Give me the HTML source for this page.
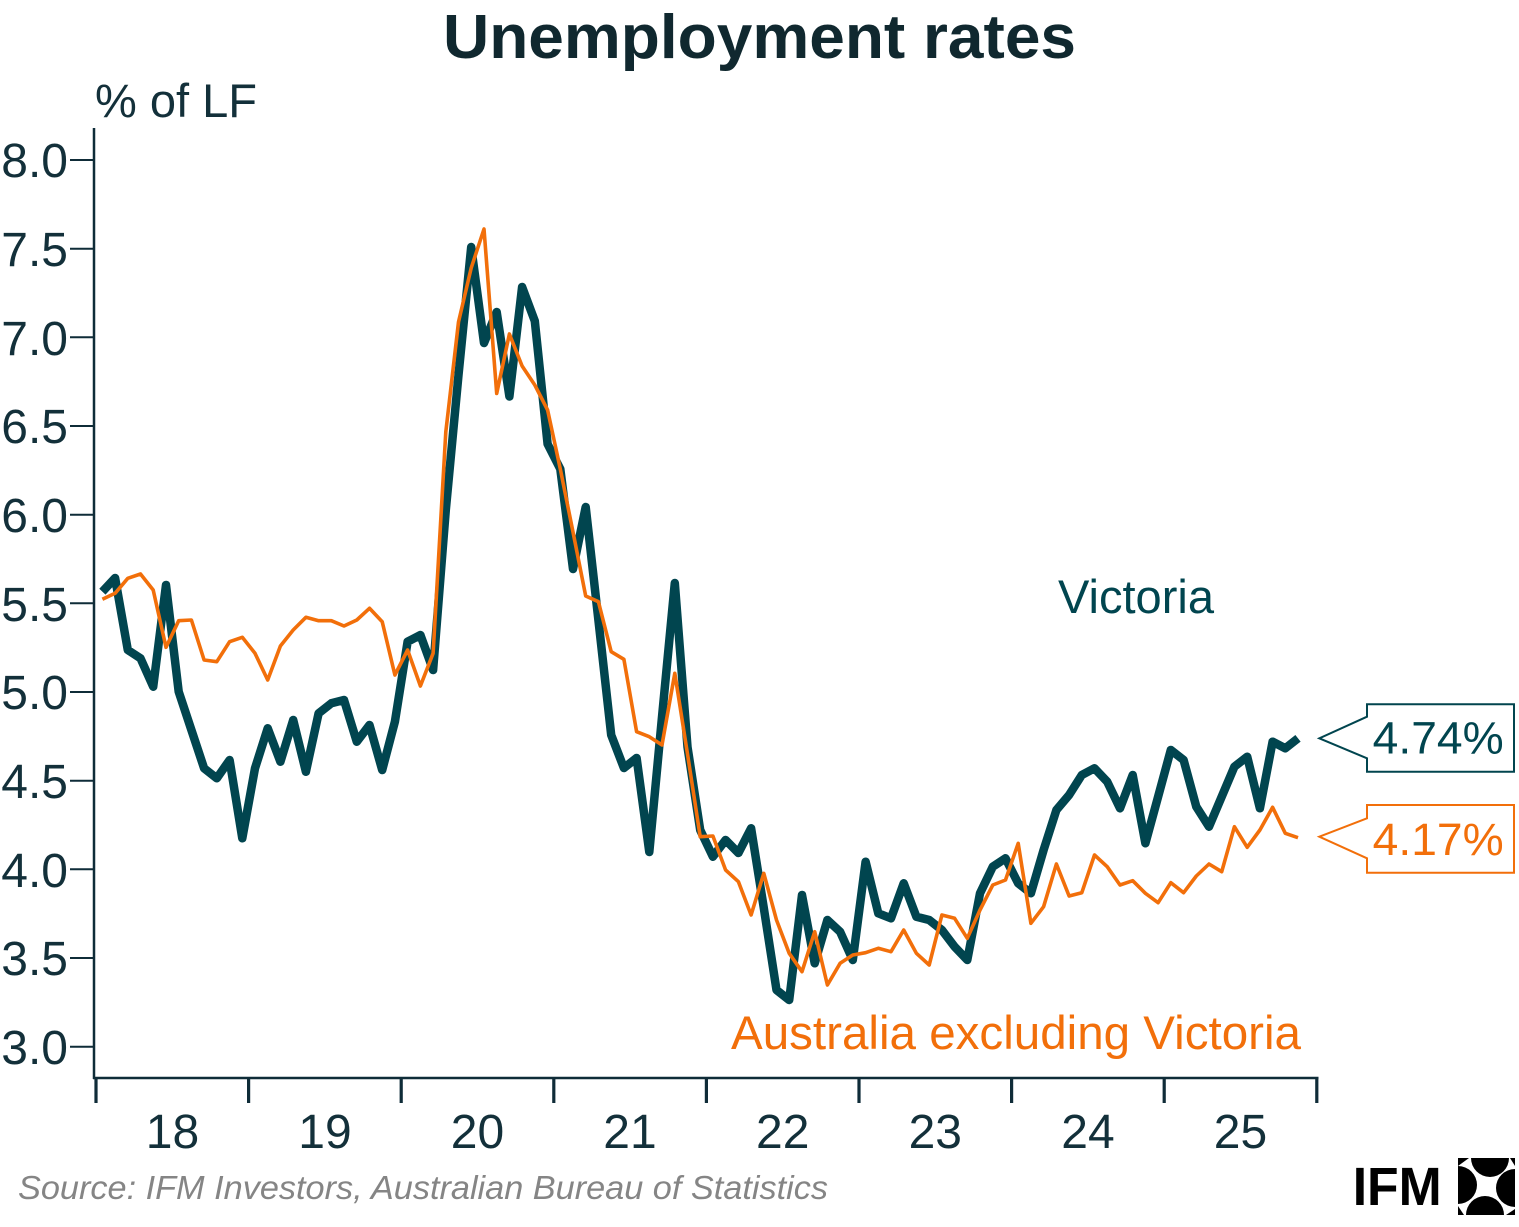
<!DOCTYPE html>
<html>
<head>
<meta charset="utf-8">
<style>
  html, body { margin: 0; padding: 0; background: #ffffff; }
  svg { display: block; }
  text { font-family: "Liberation Sans", "DejaVu Sans", sans-serif; }
</style>
</head>
<body>
<svg width="1519" height="1227" viewBox="0 0 1519 1227" xmlns="http://www.w3.org/2000/svg">
  <rect x="0" y="0" width="1519" height="1227" fill="#ffffff"/>

  <!-- Title -->
  <text x="443" y="58" font-size="62" font-weight="bold" fill="#10282f" textLength="633" lengthAdjust="spacingAndGlyphs">Unemployment rates</text>

  <!-- Y unit -->
  <text x="95" y="117" font-size="47" fill="#13303a" textLength="162" lengthAdjust="spacingAndGlyphs">% of LF</text>

  <!-- Axes -->
  <g stroke="#0f2c38" fill="none">
    <line x1="94" y1="128" x2="94" y2="1079" stroke-width="2.5"/>
    <line x1="93" y1="1078" x2="1318.5" y2="1078" stroke-width="2.5"/>
    <!-- y ticks -->
    <g stroke-width="2">
      <line x1="70" y1="160" x2="94" y2="160"/>
      <line x1="70" y1="248.7" x2="94" y2="248.7"/>
      <line x1="70" y1="337.3" x2="94" y2="337.3"/>
      <line x1="70" y1="426" x2="94" y2="426"/>
      <line x1="70" y1="514.7" x2="94" y2="514.7"/>
      <line x1="70" y1="603.3" x2="94" y2="603.3"/>
      <line x1="70" y1="692" x2="94" y2="692"/>
      <line x1="70" y1="780.7" x2="94" y2="780.7"/>
      <line x1="70" y1="869.3" x2="94" y2="869.3"/>
      <line x1="70" y1="958" x2="94" y2="958"/>
      <line x1="70" y1="1046.7" x2="94" y2="1046.7"/>
    </g>
    <!-- x ticks -->
    <g stroke-width="3.2">
      <line x1="96" y1="1078" x2="96" y2="1103"/>
      <line x1="248.6" y1="1078" x2="248.6" y2="1103"/>
      <line x1="401.2" y1="1078" x2="401.2" y2="1103"/>
      <line x1="553.8" y1="1078" x2="553.8" y2="1103"/>
      <line x1="706.4" y1="1078" x2="706.4" y2="1103"/>
      <line x1="859" y1="1078" x2="859" y2="1103"/>
      <line x1="1011.6" y1="1078" x2="1011.6" y2="1103"/>
      <line x1="1164.2" y1="1078" x2="1164.2" y2="1103"/>
      <line x1="1316.8" y1="1078" x2="1316.8" y2="1103"/>
    </g>
  </g>

  <!-- Y labels -->
  <g font-size="48" fill="#13303a" text-anchor="end">
    <text x="68" y="177">8.0</text>
    <text x="68" y="266">7.5</text>
    <text x="68" y="355">7.0</text>
    <text x="68" y="443">6.5</text>
    <text x="68" y="532">6.0</text>
    <text x="68" y="621">5.5</text>
    <text x="68" y="709">5.0</text>
    <text x="68" y="798">4.5</text>
    <text x="68" y="887">4.0</text>
    <text x="68" y="975">3.5</text>
    <text x="68" y="1064">3.0</text>
  </g>

  <!-- X labels -->
  <g font-size="48" fill="#13303a" text-anchor="middle">
    <text x="172.5" y="1148">18</text>
    <text x="325" y="1148">19</text>
    <text x="477.5" y="1148">20</text>
    <text x="630" y="1148">21</text>
    <text x="782.7" y="1148">22</text>
    <text x="935.3" y="1148">23</text>
    <text x="1088" y="1148">24</text>
    <text x="1240.5" y="1148">25</text>
  </g>

  <!-- Victoria series -->
  <polyline fill="none" stroke="#01454f" stroke-width="8.5" stroke-linejoin="round" stroke-linecap="butt"
    points="102.4,591.7 115.1,578 127.8,650 140.5,658.3 153.2,686.7 166,585 178.7,691.7 191.4,730 204.1,768.3 216.8,778.3 229.6,760 242.3,838.3 255,768.3 267.7,728.3 280.4,761.7 293.2,720 305.9,771.7 318.6,713.3 331.3,703.3 344,700 356.8,741.7 369.5,725 382.2,770 394.9,721.7 407.6,641.7 420.4,635 433.1,670 445.8,510 458.5,375 471.2,247 484,343 496.7,312 509.4,396.5 522.1,287 534.8,321 547.6,444 560.3,469 573,569 585.7,507 598.4,620 611.2,735 623.9,768 636.6,758 649.3,852 662,717 674.8,583 687.5,747 700.2,830 712.9,856.7 725.6,840 738.4,853 751.1,828.3 763.8,908 776.5,990 789.2,1000 802,895 814.7,963.3 827.4,920 840.1,931.7 852.8,960 865.6,861.7 878.3,913.3 891,918.3 903.7,883.3 916.4,916.7 929.2,920 941.9,930 954.6,946.7 967.3,960 980,893.3 992.8,866.7 1005.5,858.3 1018.2,883.3 1030.9,893.3 1043.6,850 1056.4,810 1069.1,795 1081.8,775 1094.5,768.3 1107.2,781.7 1120,808.3 1132.7,775 1145.4,843.3 1158.1,796.7 1170.8,750 1183.6,760 1196.3,806.7 1209,826.7 1221.7,796.7 1234.4,766.7 1247.2,756.7 1259.9,808.3 1272.6,741.7 1285.3,748.3 1298,738.3"/>

  <!-- Australia excl. Victoria series -->
  <polyline fill="none" stroke="#f26f0a" stroke-width="3.6" stroke-linejoin="round" stroke-linecap="butt"
    points="102.4,599.3 115.1,593.3 127.8,578.3 140.5,574 153.2,590 166,647.3 178.7,620.7 191.4,620 204.1,660 216.8,661.7 229.6,641.7 242.3,637.3 255,653.3 267.7,680 280.4,646 293.2,630 305.9,617.3 318.6,620.7 331.3,620.7 344,626 356.8,620 369.5,608.3 382.2,621.7 394.9,675 407.6,650 420.4,686 433.1,653.3 445.8,432 458.5,322 471.2,268 484,229 496.7,393.5 509.4,334 522.1,366 534.8,385 547.6,410 560.3,469 573,532 585.7,596 598.4,601.7 611.2,651.7 623.9,659.3 636.6,731.7 649.3,736.7 662,745 674.8,673.3 687.5,754 700.2,836.7 712.9,836 725.6,870 738.4,881.7 751.1,915 763.8,873.3 776.5,920 789.2,953.3 802,971.7 814.7,931.7 827.4,985 840.1,963.3 852.8,955 865.6,952.7 878.3,948.3 891,951.7 903.7,930 916.4,953.3 929.2,965 941.9,915 954.6,918.3 967.3,938.3 980,910 992.8,885 1005.5,880 1018.2,843.3 1030.9,923.3 1043.6,906.7 1056.4,864 1069.1,896 1081.8,892.7 1094.5,855 1107.2,866.7 1120,885 1132.7,880.7 1145.4,893.3 1158.1,902.7 1170.8,882.7 1183.6,892.7 1196.3,876 1209,864 1221.7,871.7 1234.4,826.7 1247.2,847.3 1259.9,830 1272.6,807.3 1285.3,833.3 1298,837.7"/>

  <!-- Series labels -->
  <text x="1058" y="613" font-size="47" fill="#01454f" textLength="156" lengthAdjust="spacingAndGlyphs">Victoria</text>
  <text x="731" y="1049" font-size="47.5" fill="#f26f0a" textLength="570" lengthAdjust="spacingAndGlyphs">Australia excluding Victoria</text>

  <!-- Callouts -->
  <path d="M1367,704.3 H1514 V771.7 H1367 V758.3 L1319.3,738.3 L1367,716.7 Z" fill="#ffffff" stroke="#01454f" stroke-width="2"/>
  <text x="1372.7" y="753.3" font-size="45" fill="#01454f" textLength="131" lengthAdjust="spacingAndGlyphs">4.74%</text>

  <path d="M1367,805 H1514 V872.7 H1367 V858.3 L1319.3,836.7 L1367,818.3 Z" fill="#ffffff" stroke="#f26f0a" stroke-width="2"/>
  <text x="1372.7" y="855" font-size="45" fill="#f26f0a" textLength="131" lengthAdjust="spacingAndGlyphs">4.17%</text>

  <!-- Source -->
  <text x="18" y="1199" font-size="33" font-style="italic" fill="#858585" textLength="810" lengthAdjust="spacingAndGlyphs">Source: IFM Investors, Australian Bureau of Statistics</text>

  <!-- Logo -->
  <text x="1352.7" y="1205" font-size="54" font-weight="bold" fill="#000000" textLength="89" lengthAdjust="spacingAndGlyphs">IFM</text>
  <g fill="#000000">
    <path d="M1471,1158 A19,19 0 0 0 1509,1158 Z"/>
    <path d="M1515,1169 A19,19 0 0 0 1515,1207 Z"/>
    <path d="M1466,1215 A19,19 0 0 1 1504,1215 Z"/>
    <path d="M1458,1166 A19,19 0 0 1 1458,1204 Z"/>
    <path d="M1458,1158 H1469 L1458,1166 Z"/>
    <path d="M1515,1158 V1166 L1510,1158 Z"/>
    <path d="M1458,1215 V1206 L1464,1215 Z"/>
    <path d="M1515,1215 H1506 L1515,1209 Z"/>
  </g>
</svg>
</body>
</html>
